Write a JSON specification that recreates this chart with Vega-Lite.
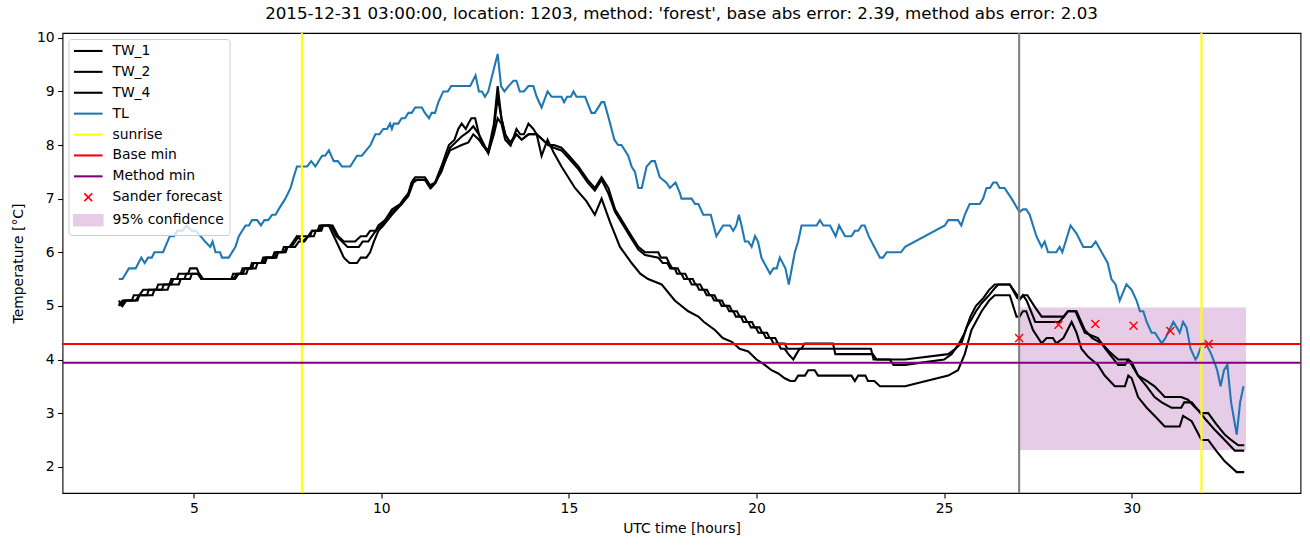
{
"$schema": "https://vega.github.io/schema/vega-lite/v6.json",
"width": 1238, "height": 460,
"autosize": "none",
"padding": {"left": 62.5, "top": 33, "right": 9.5, "bottom": 54},
"background": "white",
"title": {"text": "2015-12-31 03:00:00, location: 1203, method: 'forest', base abs error: 2.39, method abs error: 2.03", "fontSize": 16.7, "font": "DejaVu Sans", "fontWeight": "normal", "offset": 8, "color": "black"},
"config": {
  "font": "DejaVu Sans",
  "view": {"stroke": "black", "strokeWidth": 1.1},
  "axis": {"grid": false, "domain": false, "tickColor": "black", "tickSize": 4.9, "tickWidth": 1.1, "labelColor": "black", "labelFontSize": 13.9, "labelFont": "DejaVu Sans", "titleFont": "DejaVu Sans", "titleFontSize": 13.9, "titleFontWeight": "normal", "titleColor": "black", "labelPadding": 3.5}
},
"datasets": {
  "band": [{"k": "95% confidence", "x0": 27, "x1": 33.05, "lo": 2.31, "hi": 4.97}],
  "hl": [{"k": "Base min", "v": 4.29}, {"k": "Method min", "v": 3.94}],
  "sun": [{"k": "sunrise", "v": 7.88}, {"k": "sunrise", "v": 31.86}],
  "now": [{"v": 27.0}],
  "fc": [{"k": "Sander forecast", "x": 27.0, "y": 4.40}, {"k": "Sander forecast", "x": 28.05, "y": 4.65}, {"k": "Sander forecast", "x": 29.03, "y": 4.66}, {"k": "Sander forecast", "x": 30.05, "y": 4.63}, {"k": "Sander forecast", "x": 31.03, "y": 4.53}, {"k": "Sander forecast", "x": 32.05, "y": 4.29}],
  "tw1": [
{"x":3.0,"y":5.1},{"x":3.1,"y":5.0},{"x":3.2,"y":5.1},{"x":3.45,"y":5.1},{"x":3.55,"y":5.2},{"x":3.65,"y":5.3},{"x":4.15,"y":5.3},{"x":4.2,"y":5.4},{"x":4.35,"y":5.4},{"x":4.4,"y":5.5},{"x":4.55,"y":5.5},{"x":4.6,"y":5.6},{"x":4.85,"y":5.6},{"x":4.9,"y":5.7},{"x":5.08,"y":5.7},{"x":5.2,"y":5.5},{"x":6.05,"y":5.5},{"x":6.15,"y":5.6},{"x":6.3,"y":5.6},{"x":6.37,"y":5.7},{"x":6.55,"y":5.7},{"x":6.6,"y":5.8},{"x":6.85,"y":5.8},{"x":6.9,"y":5.9},{"x":7.15,"y":5.9},{"x":7.2,"y":6.0},{"x":7.4,"y":6.0},{"x":7.48,"y":6.1},{"x":7.6,"y":6.1},{"x":7.7,"y":6.2},{"x":7.8,"y":6.3},{"x":8.1,"y":6.3},{"x":8.15,"y":6.4},{"x":8.4,"y":6.4},{"x":8.45,"y":6.5},{"x":8.7,"y":6.5},{"x":8.85,"y":6.3},{"x":9.0,"y":6.2},{"x":9.3,"y":6.2},{"x":9.45,"y":6.3},{"x":9.6,"y":6.3},{"x":9.7,"y":6.4},{"x":9.85,"y":6.4},{"x":9.92,"y":6.5},{"x":10.1,"y":6.6},{"x":10.28,"y":6.8},{"x":10.5,"y":6.9},{"x":10.6,"y":7.0},{"x":10.72,"y":7.1},{"x":10.8,"y":7.3},{"x":10.9,"y":7.4},{"x":11.16,"y":7.4},{"x":11.3,"y":7.25},{"x":11.43,"y":7.3},{"x":11.6,"y":7.6},{"x":11.8,"y":8.0},{"x":11.95,"y":8.1},{"x":12.05,"y":8.3},{"x":12.14,"y":8.4},{"x":12.25,"y":8.3},{"x":12.32,"y":8.4},{"x":12.4,"y":8.5},{"x":12.5,"y":8.5},{"x":12.6,"y":8.2},{"x":12.7,"y":8.0},{"x":12.85,"y":7.9},{"x":13.0,"y":8.4},{"x":13.1,"y":9.1},{"x":13.2,"y":8.5},{"x":13.3,"y":8.2},{"x":13.45,"y":8.0},{"x":13.6,"y":8.3},{"x":13.7,"y":8.2},{"x":13.8,"y":8.2},{"x":13.92,"y":8.4},{"x":14.05,"y":8.3},{"x":14.14,"y":8.2},{"x":14.3,"y":8.1},{"x":14.45,"y":8.0},{"x":14.6,"y":8.0},{"x":14.8,"y":7.95},{"x":15.0,"y":7.8},{"x":15.25,"y":7.6},{"x":15.5,"y":7.35},{"x":15.69,"y":7.2},{"x":15.87,"y":7.4},{"x":16.05,"y":7.2},{"x":16.23,"y":6.8},{"x":16.45,"y":6.55},{"x":16.67,"y":6.3},{"x":16.85,"y":6.1},{"x":17.03,"y":6.0},{"x":17.38,"y":6.0},{"x":17.45,"y":5.9},{"x":17.6,"y":5.9},{"x":17.67,"y":5.8},{"x":17.75,"y":5.7},{"x":17.9,"y":5.7},{"x":17.97,"y":5.6},{"x":18.1,"y":5.6},{"x":18.17,"y":5.5},{"x":18.3,"y":5.5},{"x":18.37,"y":5.4},{"x":18.5,"y":5.4},{"x":18.57,"y":5.3},{"x":18.68,"y":5.3},{"x":18.75,"y":5.2},{"x":18.88,"y":5.2},{"x":18.95,"y":5.1},{"x":19.08,"y":5.1},{"x":19.15,"y":5.0},{"x":19.28,"y":5.0},{"x":19.35,"y":4.9},{"x":19.48,"y":4.9},{"x":19.55,"y":4.8},{"x":19.68,"y":4.8},{"x":19.75,"y":4.7},{"x":19.88,"y":4.7},{"x":19.95,"y":4.6},{"x":20.08,"y":4.6},{"x":20.15,"y":4.5},{"x":20.28,"y":4.5},{"x":20.35,"y":4.4},{"x":20.5,"y":4.4},{"x":20.57,"y":4.3},{"x":20.75,"y":4.3},{"x":20.82,"y":4.2},{"x":21.2,"y":4.2},{"x":21.28,"y":4.3},{"x":22.04,"y":4.3},{"x":22.1,"y":4.1},{"x":23.1,"y":4.1},{"x":23.2,"y":4.0},{"x":23.96,"y":4.0},{"x":25.11,"y":4.1},{"x":25.3,"y":4.2},{"x":25.46,"y":4.3},{"x":25.6,"y":4.6},{"x":25.73,"y":4.75},{"x":25.85,"y":4.9},{"x":26.0,"y":5.05},{"x":26.2,"y":5.2},{"x":26.35,"y":5.33},{"x":26.44,"y":5.4},{"x":26.75,"y":5.4},{"x":26.95,"y":5.15},{"x":27.05,"y":5.15},{"x":27.12,"y":5.2},{"x":27.22,"y":5.2},{"x":27.4,"y":5.0},{"x":27.6,"y":4.8},{"x":28.18,"y":4.8},{"x":28.3,"y":4.9},{"x":28.53,"y":4.9},{"x":28.75,"y":4.55},{"x":28.95,"y":4.4},{"x":29.2,"y":4.3},{"x":29.4,"y":4.15},{"x":29.64,"y":4.0},{"x":29.91,"y":4.0},{"x":30.17,"y":3.7},{"x":30.4,"y":3.6},{"x":30.61,"y":3.5},{"x":30.75,"y":3.4},{"x":30.88,"y":3.3},{"x":31.32,"y":3.3},{"x":31.5,"y":3.25},{"x":31.7,"y":3.1},{"x":31.86,"y":3.0},{"x":32.04,"y":3.0},{"x":32.25,"y":2.8},{"x":32.48,"y":2.6},{"x":32.65,"y":2.5},{"x":32.84,"y":2.4},{"x":33.0,"y":2.4}
  ],
  "tw2": [
{"x":3.0,"y":5.0},{"x":3.1,"y":5.1},{"x":3.35,"y":5.1},{"x":3.4,"y":5.2},{"x":3.75,"y":5.2},{"x":3.8,"y":5.3},{"x":4.0,"y":5.3},{"x":4.05,"y":5.4},{"x":4.4,"y":5.4},{"x":4.45,"y":5.5},{"x":4.75,"y":5.5},{"x":4.8,"y":5.6},{"x":5.15,"y":5.6},{"x":5.25,"y":5.5},{"x":6.1,"y":5.5},{"x":6.2,"y":5.6},{"x":6.4,"y":5.6},{"x":6.45,"y":5.7},{"x":6.65,"y":5.7},{"x":6.7,"y":5.8},{"x":6.9,"y":5.8},{"x":6.95,"y":5.9},{"x":7.2,"y":5.9},{"x":7.25,"y":6.0},{"x":7.45,"y":6.0},{"x":7.5,"y":6.1},{"x":7.7,"y":6.1},{"x":7.8,"y":6.2},{"x":7.95,"y":6.2},{"x":8.05,"y":6.3},{"x":8.2,"y":6.3},{"x":8.25,"y":6.4},{"x":8.35,"y":6.4},{"x":8.4,"y":6.5},{"x":8.65,"y":6.5},{"x":8.8,"y":6.3},{"x":8.95,"y":6.2},{"x":9.1,"y":6.1},{"x":9.4,"y":6.1},{"x":9.5,"y":6.2},{"x":9.65,"y":6.2},{"x":9.75,"y":6.3},{"x":9.85,"y":6.4},{"x":10.0,"y":6.5},{"x":10.1,"y":6.6},{"x":10.28,"y":6.75},{"x":10.54,"y":6.9},{"x":10.72,"y":7.1},{"x":10.85,"y":7.35},{"x":11.16,"y":7.35},{"x":11.3,"y":7.2},{"x":11.43,"y":7.3},{"x":11.6,"y":7.5},{"x":11.83,"y":7.95},{"x":12.14,"y":8.16},{"x":12.32,"y":8.25},{"x":12.45,"y":8.35},{"x":12.6,"y":8.2},{"x":12.85,"y":7.85},{"x":13.0,"y":8.3},{"x":13.1,"y":8.9},{"x":13.2,"y":8.5},{"x":13.3,"y":8.2},{"x":13.43,"y":8.05},{"x":13.6,"y":8.2},{"x":13.74,"y":8.1},{"x":13.92,"y":8.2},{"x":14.14,"y":8.2},{"x":14.3,"y":8.1},{"x":14.45,"y":8.0},{"x":14.6,"y":7.95},{"x":14.8,"y":7.9},{"x":15.0,"y":7.75},{"x":15.25,"y":7.55},{"x":15.5,"y":7.3},{"x":15.69,"y":7.15},{"x":15.87,"y":7.35},{"x":16.05,"y":7.1},{"x":16.23,"y":6.75},{"x":16.45,"y":6.5},{"x":16.67,"y":6.25},{"x":16.85,"y":6.05},{"x":17.03,"y":5.95},{"x":17.38,"y":5.9},{"x":17.5,"y":5.8},{"x":17.62,"y":5.8},{"x":17.7,"y":5.7},{"x":17.82,"y":5.7},{"x":17.88,"y":5.6},{"x":18.0,"y":5.6},{"x":18.07,"y":5.5},{"x":18.2,"y":5.5},{"x":18.27,"y":5.4},{"x":18.4,"y":5.4},{"x":18.47,"y":5.3},{"x":18.6,"y":5.3},{"x":18.67,"y":5.2},{"x":18.8,"y":5.2},{"x":18.87,"y":5.1},{"x":19.0,"y":5.1},{"x":19.07,"y":5.0},{"x":19.2,"y":5.0},{"x":19.27,"y":4.9},{"x":19.38,"y":4.9},{"x":19.45,"y":4.8},{"x":19.58,"y":4.8},{"x":19.65,"y":4.7},{"x":19.78,"y":4.7},{"x":19.85,"y":4.6},{"x":19.98,"y":4.6},{"x":20.05,"y":4.5},{"x":20.18,"y":4.5},{"x":20.25,"y":4.4},{"x":20.38,"y":4.4},{"x":20.45,"y":4.3},{"x":20.58,"y":4.3},{"x":20.65,"y":4.2},{"x":20.75,"y":4.2},{"x":20.85,"y":4.1},{"x":20.98,"y":4.0},{"x":21.06,"y":4.1},{"x":21.15,"y":4.2},{"x":23.05,"y":4.2},{"x":23.12,"y":4.0},{"x":23.55,"y":4.0},{"x":23.65,"y":3.9},{"x":23.96,"y":3.9},{"x":25.0,"y":4.0},{"x":25.2,"y":4.1},{"x":25.4,"y":4.3},{"x":25.55,"y":4.5},{"x":25.7,"y":4.8},{"x":25.85,"y":5.0},{"x":26.05,"y":5.15},{"x":26.2,"y":5.3},{"x":26.35,"y":5.4},{"x":26.75,"y":5.4},{"x":26.95,"y":5.2},{"x":27.0,"y":5.1},{"x":27.1,"y":5.2},{"x":27.2,"y":5.1},{"x":27.43,"y":4.7},{"x":28.06,"y":4.7},{"x":28.2,"y":4.8},{"x":28.3,"y":4.9},{"x":28.5,"y":4.9},{"x":28.75,"y":4.5},{"x":29.1,"y":4.4},{"x":29.3,"y":4.2},{"x":29.64,"y":3.9},{"x":29.82,"y":3.9},{"x":29.91,"y":4.0},{"x":30.0,"y":3.95},{"x":30.17,"y":3.7},{"x":30.4,"y":3.5},{"x":30.61,"y":3.3},{"x":30.8,"y":3.2},{"x":31.06,"y":3.1},{"x":31.32,"y":3.1},{"x":31.4,"y":3.2},{"x":31.6,"y":3.2},{"x":31.95,"y":2.9},{"x":32.2,"y":2.7},{"x":32.48,"y":2.5},{"x":32.75,"y":2.3},{"x":33.0,"y":2.3}
  ],
  "tw4": [
{"x":3.0,"y":5.05},{"x":3.08,"y":5.0},{"x":3.15,"y":5.1},{"x":3.5,"y":5.1},{"x":3.55,"y":5.2},{"x":3.9,"y":5.2},{"x":3.95,"y":5.3},{"x":4.3,"y":5.3},{"x":4.35,"y":5.4},{"x":4.6,"y":5.4},{"x":4.65,"y":5.5},{"x":4.9,"y":5.5},{"x":4.95,"y":5.6},{"x":5.1,"y":5.6},{"x":5.2,"y":5.5},{"x":6.0,"y":5.5},{"x":6.05,"y":5.6},{"x":6.25,"y":5.6},{"x":6.3,"y":5.7},{"x":6.5,"y":5.7},{"x":6.55,"y":5.8},{"x":6.8,"y":5.8},{"x":6.85,"y":5.9},{"x":7.1,"y":5.9},{"x":7.15,"y":6.0},{"x":7.35,"y":6.0},{"x":7.4,"y":6.1},{"x":7.55,"y":6.1},{"x":7.65,"y":6.2},{"x":7.75,"y":6.3},{"x":7.9,"y":6.2},{"x":8.05,"y":6.3},{"x":8.15,"y":6.4},{"x":8.3,"y":6.4},{"x":8.35,"y":6.5},{"x":8.6,"y":6.5},{"x":8.8,"y":6.2},{"x":9.0,"y":5.9},{"x":9.15,"y":5.8},{"x":9.35,"y":5.8},{"x":9.45,"y":5.9},{"x":9.6,"y":5.9},{"x":9.7,"y":6.0},{"x":9.8,"y":6.2},{"x":9.92,"y":6.4},{"x":10.05,"y":6.5},{"x":10.28,"y":6.7},{"x":10.54,"y":6.9},{"x":10.72,"y":7.05},{"x":10.85,"y":7.3},{"x":10.95,"y":7.35},{"x":11.2,"y":7.35},{"x":11.32,"y":7.2},{"x":11.45,"y":7.3},{"x":11.6,"y":7.55},{"x":11.83,"y":7.9},{"x":12.14,"y":8.0},{"x":12.32,"y":8.05},{"x":12.45,"y":8.2},{"x":12.6,"y":8.1},{"x":12.85,"y":7.85},{"x":13.0,"y":8.2},{"x":13.1,"y":8.5},{"x":13.2,"y":8.4},{"x":13.3,"y":8.1},{"x":13.43,"y":8.0},{"x":13.6,"y":8.2},{"x":13.74,"y":8.1},{"x":13.92,"y":8.2},{"x":14.14,"y":8.2},{"x":14.27,"y":7.8},{"x":14.43,"y":8.1},{"x":14.6,"y":7.85},{"x":14.8,"y":7.6},{"x":15.16,"y":7.2},{"x":15.47,"y":6.95},{"x":15.69,"y":6.7},{"x":15.87,"y":7.0},{"x":16.09,"y":6.57},{"x":16.36,"y":6.1},{"x":16.67,"y":5.8},{"x":16.9,"y":5.6},{"x":17.11,"y":5.5},{"x":17.47,"y":5.4},{"x":17.82,"y":5.1},{"x":18.18,"y":4.9},{"x":18.45,"y":4.8},{"x":18.6,"y":4.7},{"x":18.89,"y":4.55},{"x":19.1,"y":4.4},{"x":19.34,"y":4.33},{"x":19.55,"y":4.2},{"x":19.78,"y":4.15},{"x":20.0,"y":4.0},{"x":20.22,"y":3.9},{"x":20.4,"y":3.8},{"x":20.58,"y":3.74},{"x":20.75,"y":3.65},{"x":20.9,"y":3.6},{"x":21.02,"y":3.6},{"x":21.11,"y":3.7},{"x":21.29,"y":3.7},{"x":21.38,"y":3.8},{"x":21.55,"y":3.8},{"x":21.64,"y":3.7},{"x":22.53,"y":3.7},{"x":22.62,"y":3.6},{"x":22.71,"y":3.7},{"x":22.9,"y":3.7},{"x":22.97,"y":3.6},{"x":23.14,"y":3.6},{"x":23.29,"y":3.5},{"x":23.96,"y":3.5},{"x":25.11,"y":3.7},{"x":25.37,"y":3.8},{"x":25.55,"y":4.1},{"x":25.73,"y":4.55},{"x":26.0,"y":4.9},{"x":26.2,"y":5.1},{"x":26.35,"y":5.2},{"x":26.75,"y":5.2},{"x":26.93,"y":4.8},{"x":27.01,"y":4.8},{"x":27.1,"y":4.9},{"x":27.19,"y":4.9},{"x":27.37,"y":4.55},{"x":27.6,"y":4.3},{"x":27.73,"y":4.4},{"x":27.9,"y":4.4},{"x":27.99,"y":4.3},{"x":28.18,"y":4.4},{"x":28.4,"y":4.7},{"x":28.53,"y":4.5},{"x":28.66,"y":4.2},{"x":28.84,"y":4.05},{"x":29.1,"y":3.9},{"x":29.28,"y":3.7},{"x":29.55,"y":3.5},{"x":29.82,"y":3.5},{"x":29.91,"y":3.7},{"x":30.0,"y":3.65},{"x":30.17,"y":3.3},{"x":30.4,"y":3.1},{"x":30.61,"y":2.95},{"x":30.88,"y":2.75},{"x":31.28,"y":2.75},{"x":31.37,"y":2.95},{"x":31.6,"y":2.85},{"x":31.86,"y":2.5},{"x":32.04,"y":2.5},{"x":32.25,"y":2.3},{"x":32.48,"y":2.1},{"x":32.8,"y":1.9},{"x":33.0,"y":1.9}
  ],
  "tl": [
{"x":3.0,"y":5.5},{"x":3.1,"y":5.5},{"x":3.27,"y":5.7},{"x":3.45,"y":5.7},{"x":3.6,"y":5.9},{"x":3.69,"y":5.8},{"x":3.78,"y":5.9},{"x":3.88,"y":5.9},{"x":3.95,"y":6.0},{"x":4.18,"y":6.0},{"x":4.36,"y":6.3},{"x":4.47,"y":6.3},{"x":4.56,"y":6.4},{"x":4.7,"y":6.4},{"x":4.8,"y":6.5},{"x":4.95,"y":6.4},{"x":5.05,"y":6.4},{"x":5.18,"y":6.3},{"x":5.3,"y":6.2},{"x":5.44,"y":6.1},{"x":5.5,"y":6.2},{"x":5.58,"y":6.0},{"x":5.7,"y":6.0},{"x":5.75,"y":5.9},{"x":5.93,"y":5.9},{"x":6.11,"y":6.1},{"x":6.2,"y":6.3},{"x":6.38,"y":6.5},{"x":6.47,"y":6.5},{"x":6.55,"y":6.6},{"x":6.69,"y":6.6},{"x":6.79,"y":6.5},{"x":6.88,"y":6.6},{"x":6.98,"y":6.6},{"x":7.09,"y":6.7},{"x":7.18,"y":6.7},{"x":7.26,"y":6.8},{"x":7.44,"y":7.0},{"x":7.58,"y":7.2},{"x":7.66,"y":7.4},{"x":7.75,"y":7.6},{"x":7.88,"y":7.6},{"x":8.02,"y":7.6},{"x":8.13,"y":7.7},{"x":8.24,"y":7.6},{"x":8.42,"y":7.8},{"x":8.5,"y":7.8},{"x":8.6,"y":7.9},{"x":8.73,"y":7.7},{"x":8.84,"y":7.7},{"x":8.95,"y":7.6},{"x":9.17,"y":7.6},{"x":9.35,"y":7.8},{"x":9.48,"y":7.8},{"x":9.71,"y":8.0},{"x":9.84,"y":8.2},{"x":9.95,"y":8.2},{"x":10.05,"y":8.3},{"x":10.15,"y":8.3},{"x":10.23,"y":8.4},{"x":10.28,"y":8.3},{"x":10.33,"y":8.4},{"x":10.45,"y":8.4},{"x":10.54,"y":8.5},{"x":10.63,"y":8.5},{"x":10.72,"y":8.6},{"x":10.81,"y":8.6},{"x":10.9,"y":8.7},{"x":11.08,"y":8.7},{"x":11.16,"y":8.6},{"x":11.27,"y":8.5},{"x":11.34,"y":8.6},{"x":11.43,"y":8.6},{"x":11.52,"y":8.8},{"x":11.65,"y":9.0},{"x":11.77,"y":9.0},{"x":11.86,"y":9.1},{"x":12.37,"y":9.1},{"x":12.51,"y":9.3},{"x":12.6,"y":9.0},{"x":12.68,"y":9.0},{"x":12.76,"y":8.9},{"x":12.85,"y":9.0},{"x":12.99,"y":9.4},{"x":13.1,"y":9.7},{"x":13.19,"y":9.1},{"x":13.28,"y":9.0},{"x":13.39,"y":9.1},{"x":13.52,"y":9.2},{"x":13.6,"y":9.2},{"x":13.69,"y":9.0},{"x":13.8,"y":9.0},{"x":13.92,"y":9.1},{"x":14.05,"y":9.1},{"x":14.14,"y":8.9},{"x":14.27,"y":8.7},{"x":14.43,"y":9.0},{"x":14.54,"y":8.9},{"x":14.8,"y":8.9},{"x":14.87,"y":8.8},{"x":14.95,"y":8.9},{"x":15.05,"y":8.9},{"x":15.12,"y":9.0},{"x":15.2,"y":8.9},{"x":15.43,"y":8.9},{"x":15.6,"y":8.6},{"x":15.69,"y":8.6},{"x":15.87,"y":8.8},{"x":15.94,"y":8.8},{"x":16.06,"y":8.5},{"x":16.21,"y":8.1},{"x":16.31,"y":8.0},{"x":16.4,"y":8.0},{"x":16.58,"y":7.8},{"x":16.67,"y":7.6},{"x":16.76,"y":7.5},{"x":16.85,"y":7.2},{"x":16.94,"y":7.2},{"x":17.07,"y":7.6},{"x":17.2,"y":7.7},{"x":17.29,"y":7.7},{"x":17.42,"y":7.4},{"x":17.6,"y":7.3},{"x":17.69,"y":7.2},{"x":17.84,"y":7.3},{"x":17.96,"y":7.1},{"x":18.0,"y":7.0},{"x":18.27,"y":7.0},{"x":18.36,"y":6.9},{"x":18.45,"y":6.9},{"x":18.58,"y":6.7},{"x":18.78,"y":6.7},{"x":18.93,"y":6.3},{"x":19.11,"y":6.5},{"x":19.29,"y":6.5},{"x":19.38,"y":6.4},{"x":19.46,"y":6.5},{"x":19.53,"y":6.7},{"x":19.6,"y":6.5},{"x":19.69,"y":6.2},{"x":19.78,"y":6.2},{"x":19.87,"y":6.1},{"x":19.96,"y":6.3},{"x":20.04,"y":6.2},{"x":20.13,"y":5.9},{"x":20.36,"y":5.6},{"x":20.45,"y":5.7},{"x":20.54,"y":5.7},{"x":20.62,"y":5.9},{"x":20.77,"y":5.7},{"x":20.86,"y":5.4},{"x":21.02,"y":6.0},{"x":21.11,"y":6.2},{"x":21.2,"y":6.5},{"x":21.6,"y":6.5},{"x":21.69,"y":6.6},{"x":21.78,"y":6.5},{"x":21.96,"y":6.5},{"x":22.11,"y":6.3},{"x":22.2,"y":6.5},{"x":22.36,"y":6.3},{"x":22.53,"y":6.3},{"x":22.62,"y":6.4},{"x":22.71,"y":6.4},{"x":22.8,"y":6.5},{"x":22.88,"y":6.5},{"x":22.99,"y":6.3},{"x":23.14,"y":6.1},{"x":23.29,"y":5.9},{"x":23.37,"y":5.9},{"x":23.47,"y":6.0},{"x":23.85,"y":6.0},{"x":23.96,"y":6.1},{"x":25.02,"y":6.5},{"x":25.11,"y":6.6},{"x":25.37,"y":6.6},{"x":25.46,"y":6.5},{"x":25.55,"y":6.7},{"x":25.68,"y":6.9},{"x":25.95,"y":6.9},{"x":26.04,"y":7.0},{"x":26.13,"y":7.2},{"x":26.22,"y":7.2},{"x":26.31,"y":7.3},{"x":26.4,"y":7.3},{"x":26.48,"y":7.2},{"x":26.61,"y":7.2},{"x":26.8,"y":7.0},{"x":27.01,"y":6.75},{"x":27.1,"y":6.8},{"x":27.19,"y":6.8},{"x":27.28,"y":6.7},{"x":27.46,"y":6.3},{"x":27.6,"y":6.1},{"x":27.68,"y":6.2},{"x":27.77,"y":6.0},{"x":27.99,"y":6.0},{"x":28.08,"y":6.1},{"x":28.15,"y":6.0},{"x":28.24,"y":6.2},{"x":28.37,"y":6.5},{"x":28.53,"y":6.35},{"x":28.71,"y":6.1},{"x":28.93,"y":6.1},{"x":29.04,"y":6.2},{"x":29.2,"y":6.0},{"x":29.36,"y":5.8},{"x":29.46,"y":5.5},{"x":29.57,"y":5.4},{"x":29.68,"y":5.1},{"x":29.86,"y":5.4},{"x":30.0,"y":5.3},{"x":30.13,"y":5.1},{"x":30.22,"y":4.9},{"x":30.31,"y":4.9},{"x":30.4,"y":4.7},{"x":30.53,"y":4.5},{"x":30.62,"y":4.5},{"x":30.8,"y":4.3},{"x":30.9,"y":4.4},{"x":31.11,"y":4.7},{"x":31.2,"y":4.6},{"x":31.28,"y":4.5},{"x":31.37,"y":4.7},{"x":31.46,"y":4.6},{"x":31.57,"y":4.2},{"x":31.7,"y":4.0},{"x":31.75,"y":4.05},{"x":31.88,"y":4.3},{"x":31.98,"y":4.3},{"x":32.12,"y":4.1},{"x":32.23,"y":3.9},{"x":32.28,"y":3.8},{"x":32.37,"y":3.5},{"x":32.46,"y":3.8},{"x":32.55,"y":3.9},{"x":32.65,"y":3.2},{"x":32.8,"y":2.6},{"x":32.89,"y":3.2},{"x":32.98,"y":3.5}
  ]
},
"layer": [
  {
    "data": {"name": "band"},
    "mark": {"type": "rect"},
    "encoding": {
      "x": {"field": "x0", "type": "quantitative", "scale": {"domain": [1.5, 34.5], "nice": false, "zero": false}, "axis": {"title": "UTC time [hours]", "values": [5, 10, 15, 20, 25, 30], "format": "d", "titlePadding": 6}},
      "x2": {"field": "x1"},
      "y": {"field": "lo", "type": "quantitative", "scale": {"domain": [1.51, 10.09], "nice": false, "zero": false}, "axis": {"title": "Temperature [°C]", "values": [2, 3, 4, 5, 6, 7, 8, 9, 10], "format": "d", "titlePadding": 11}},
      "y2": {"field": "hi"},
      "color": {"field": "k", "type": "nominal",
        "scale": {"domain": ["TW_1", "TW_2", "TW_4", "TL", "sunrise", "Base min", "Method min", "Sander forecast", "95% confidence"], "range": ["black", "black", "black", "#1f77b4", "#ffff00", "#ff0000", "#800080", "#ff0000", "#e6cce6"]},
        "legend": {"title": null, "orient": "top-left", "offset": 6, "padding": 5, "fillColor": "rgba(255,255,255,0.8)", "strokeColor": "#cccccc", "cornerRadius": 3, "labelFontSize": 13.9, "labelFont": "DejaVu Sans", "labelColor": "black", "symbolSize": 169, "rowPadding": 5.9, "labelOffset": 25, "symbolType": "M-1,0H3.4",
          "encode": {"symbols": {"update": {
            "shape": {"signal": "datum.label === 'Sander forecast' ? 'M0.6,-0.6L1.8,0.6M0.6,0.6L1.8,-0.6' : datum.label === '95% confidence' ? 'M-1,-0.8H3.4V0.8H-1Z' : 'M-1,0H3.4'"},
            "size": {"value": 169},
            "fill": {"signal": "datum.label === '95% confidence' ? '#e6cce6' : 'transparent'"},
            "stroke": {"signal": "datum.label === 'TL' ? '#1f77b4' : datum.label === 'sunrise' ? '#ffff00' : (datum.label === 'Base min' || datum.label === 'Sander forecast') ? '#ff0000' : datum.label === 'Method min' ? '#800080' : datum.label === '95% confidence' ? 'transparent' : 'black'"},
            "strokeWidth": {"signal": "datum.label === 'Sander forecast' ? 1.5 : 2.08"},
            "opacity": {"value": 1}
          }}}
        }
      }
    }
  },
  {"data": {"name": "tw1"}, "mark": {"type": "line", "strokeWidth": 2.08},
   "encoding": {"x": {"field": "x", "type": "quantitative", "scale": {"domain": [1.5, 34.5], "nice": false, "zero": false}}, "y": {"field": "y", "type": "quantitative", "scale": {"domain": [1.51, 10.09], "nice": false, "zero": false}}, "color": {"datum": "TW_1"}}},
  {"data": {"name": "tw2"}, "mark": {"type": "line", "strokeWidth": 2.08},
   "encoding": {"x": {"field": "x", "type": "quantitative", "scale": {"domain": [1.5, 34.5], "nice": false, "zero": false}}, "y": {"field": "y", "type": "quantitative", "scale": {"domain": [1.51, 10.09], "nice": false, "zero": false}}, "color": {"datum": "TW_2"}}},
  {"data": {"name": "tw4"}, "mark": {"type": "line", "strokeWidth": 2.08},
   "encoding": {"x": {"field": "x", "type": "quantitative", "scale": {"domain": [1.5, 34.5], "nice": false, "zero": false}}, "y": {"field": "y", "type": "quantitative", "scale": {"domain": [1.51, 10.09], "nice": false, "zero": false}}, "color": {"datum": "TW_4"}}},
  {"data": {"name": "tl"}, "mark": {"type": "line", "strokeWidth": 2.08},
   "encoding": {"x": {"field": "x", "type": "quantitative", "scale": {"domain": [1.5, 34.5], "nice": false, "zero": false}}, "y": {"field": "y", "type": "quantitative", "scale": {"domain": [1.51, 10.09], "nice": false, "zero": false}}, "color": {"datum": "TL"}}},
  {"data": {"name": "sun"}, "mark": {"type": "rule", "strokeWidth": 2.08},
   "encoding": {"x": {"field": "v", "type": "quantitative", "scale": {"domain": [1.5, 34.5], "nice": false, "zero": false}}, "color": {"field": "k", "type": "nominal"}}},
  {"data": {"name": "now"}, "mark": {"type": "rule", "strokeWidth": 2.08, "color": "#808080"},
   "encoding": {"x": {"field": "v", "type": "quantitative", "scale": {"domain": [1.5, 34.5], "nice": false, "zero": false}}}},
  {"data": {"name": "hl"}, "mark": {"type": "rule", "strokeWidth": 2.08},
   "encoding": {"y": {"field": "v", "type": "quantitative", "scale": {"domain": [1.51, 10.09], "nice": false, "zero": false}}, "color": {"field": "k", "type": "nominal"}}},
  {"data": {"name": "fc"}, "mark": {"type": "point", "shape": "M-1,-1L1,1M-1,1L1,-1", "filled": false, "size": 64, "strokeWidth": 1.4, "opacity": 1},
   "encoding": {"x": {"field": "x", "type": "quantitative", "scale": {"domain": [1.5, 34.5], "nice": false, "zero": false}}, "y": {"field": "y", "type": "quantitative", "scale": {"domain": [1.51, 10.09], "nice": false, "zero": false}}, "color": {"field": "k", "type": "nominal"}}}
]
}
